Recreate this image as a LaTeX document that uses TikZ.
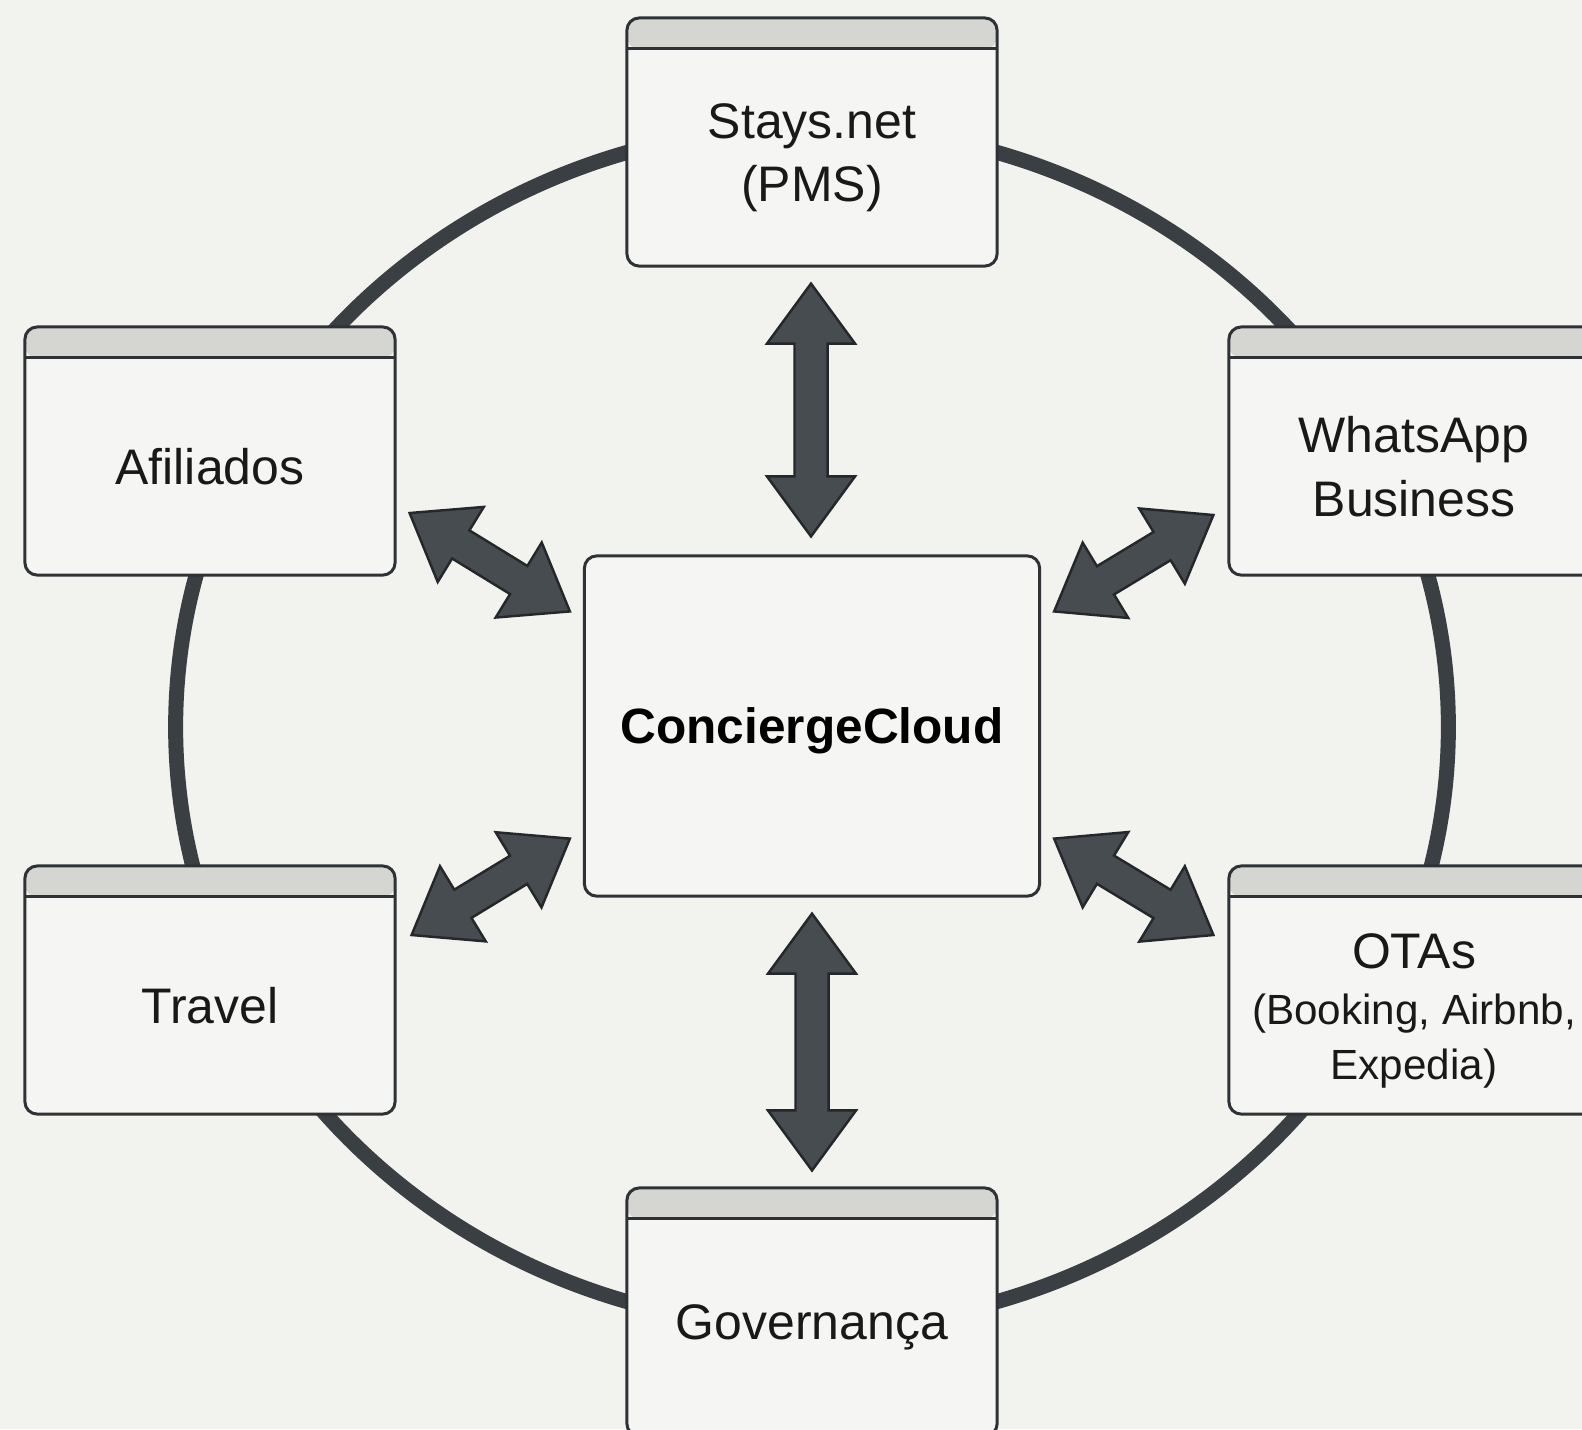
\documentclass[tikz,border=0pt]{standalone}
\usepackage{fontspec}
\setmainfont{Liberation Sans}
\usetikzlibrary{calc}
\definecolor{bg}{HTML}{F2F2EF}
\definecolor{boxfill}{HTML}{F5F5F3}
\definecolor{headfill}{HTML}{D5D5D2}
\definecolor{edge}{HTML}{2E3236}
\definecolor{ring}{HTML}{3A3F44}
\definecolor{arrowfill}{HTML}{474C51}
\definecolor{arrowedge}{HTML}{24282B}
\tikzset{
  winbox/.style={draw=edge, line width=0.85pt, fill=boxfill, rounded corners=3.5pt,
    minimum width=3.70cm, minimum height=2.48cm, inner sep=0pt,
    path picture={
      \fill[headfill] (path picture bounding box.north west) rectangle ([yshift=-0.31cm]path picture bounding box.north east);
      \draw[edge, line width=0.85pt] ([yshift=-0.31cm]path picture bounding box.north west) -- ([yshift=-0.31cm]path picture bounding box.north east);
    }},
  corebox/.style={draw=edge, line width=0.85pt, fill=boxfill, rounded corners=3.5pt,
    minimum width=4.55cm, minimum height=3.40cm, inner sep=0pt},
  label/.style={align=center, inner sep=0pt, text=black!90,
    font=\fontsize{14.2}{18}\selectfont},
  smalllabel/.style={align=center, inner sep=0pt, text=black!90,
    font=\fontsize{12}{15.8}\selectfont},
  corelabel/.style={inner sep=0pt, font=\fontsize{14.1}{17}\selectfont\bfseries},
  fatarrow/.style={fill=arrowfill, draw=arrowedge, line width=0.7pt, line join=miter},
  ringline/.style={draw=ring, line width=0.15cm}
}
\newcommand{\fatarr}[2]{%
  \filldraw[fatarrow] (#1)
   -- ($(#1)!0.6cm!(#2)!0.44cm!90:(#2)$)
   -- ($(#1)!0.6cm!(#2)!0.165cm!90:(#2)$)
   -- ($(#2)!0.6cm!(#1)!0.165cm!-90:(#1)$)
   -- ($(#2)!0.6cm!(#1)!0.44cm!-90:(#1)$)
   -- (#2)
   -- ($(#2)!0.6cm!(#1)!0.44cm!90:(#1)$)
   -- ($(#2)!0.6cm!(#1)!0.165cm!90:(#1)$)
   -- ($(#1)!0.6cm!(#2)!0.165cm!-90:(#2)$)
   -- ($(#1)!0.6cm!(#2)!0.44cm!-90:(#2)$)
   -- cycle;}
\begin{document}
\begin{tikzpicture}[x=0.01cm, y=-0.01cm]
\fill[bg] (0,0) rectangle (1582,1429);
\useasboundingbox (0,0) rectangle (1582,1429);
\clip (0,0) rectangle (1582,1429);

% ring
\draw[ringline] (812,727) ellipse [x radius=6.36cm, y radius=6.0cm];

% boxes
\node[winbox] (top) at (812,142) {};
\node[winbox] (afil) at (210,451) {};
\node[winbox] (wa) at (1414,451) {};
\node[winbox] (trav) at (210,990) {};
\node[winbox] (otas) at (1414,990) {};
\node[winbox] (gov) at (812,1312) {};
\node[corebox] (cc) at (812,726) {};

% labels
\node[label] (topt) at ([yshift=-0.155cm]top.center) {Stays.net\\(PMS)};
\node[label] (afilt) at ([yshift=-0.155cm]afil.center) {Afiliados};
\node[label] (wat) at ([yshift=-0.155cm]wa.center) {WhatsApp\\Business};
\node[label] (travt) at ([yshift=-0.155cm]trav.center) {Travel};
\node[smalllabel] (otast) at ([yshift=-0.21cm]otas.center) {{\fontsize{14.2}{15.8}\selectfont OTAs}\\(Booking, Airbnb,\\Expedia)};
\node[label] (govt) at ([yshift=-0.155cm]gov.center) {Governança};
\node[corelabel] (cct) at ([yshift=-0.05cm]cc.center) {ConciergeCloud};

% arrow ends
\coordinate (t1) at ($(top.south)+(-1,16)$);
\coordinate (t2) at ($(cc.north)+(-1,-18)$);
\coordinate (b1) at ($(cc.south)+(0,16)$);
\coordinate (b2) at ($(gov.north)+(0,-16)$);
\coordinate (ul1) at ($(afil.east)+(13,62)$);
\coordinate (ul2) at ($(cc.north west)+(-13,57)$);
\coordinate (ur1) at ($(wa.west)+(-14,64)$);
\coordinate (ur2) at ($(cc.north east)+(13,57)$);
\coordinate (ll1) at ($(trav.east)+(15,-55)$);
\coordinate (ll2) at ($(cc.south west)+(-13,-59)$);
\coordinate (lr1) at ($(otas.west)+(-14,-55)$);
\coordinate (lr2) at ($(cc.south east)+(13,-59)$);

\fatarr{t1}{t2}
\fatarr{b1}{b2}
\fatarr{ul1}{ul2}
\fatarr{ur1}{ur2}
\fatarr{ll1}{ll2}
\fatarr{lr1}{lr2}
\end{tikzpicture}
\end{document}
